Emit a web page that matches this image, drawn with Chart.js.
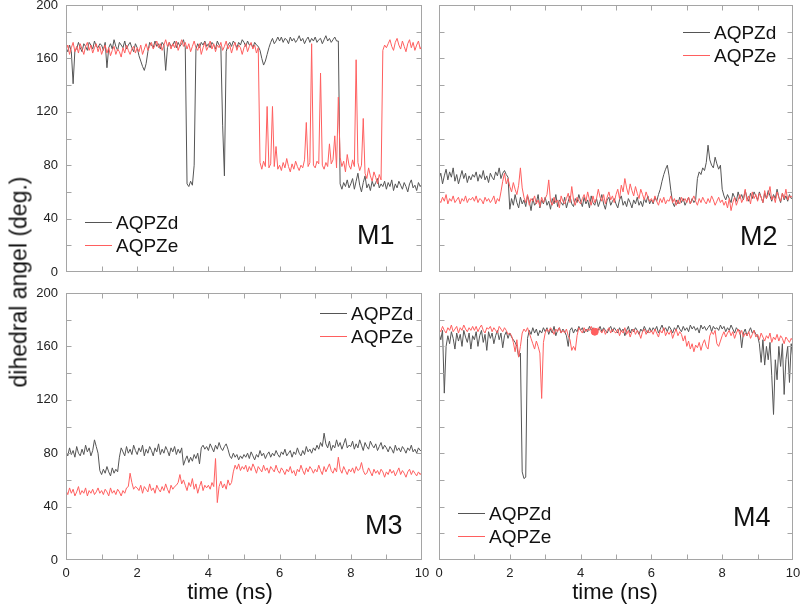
<!DOCTYPE html>
<html>
<head>
<meta charset="utf-8">
<script src="https://cdn.jsdelivr.net/npm/chart.js"></script>
<style>
  body { margin: 0; background: #fff; }
  #wrap { position: relative; width: 800px; height: 614px; overflow: hidden; font-family: "Liberation Sans", Arial, sans-serif; color: #111; }
  canvas { position: absolute; }
  .xt { position: absolute; top: 579px; width: 200px; text-align: center; font-size: 22px; }
  .yt { position: absolute; left: 19px; top: 282px; font-size: 23px; white-space: nowrap; transform: translate(-50%, -50%) rotate(-90deg); }
</style>
</head>
<body>
<div id="wrap">
  <canvas id="m1"></canvas>
  <canvas id="m2"></canvas>
  <canvas id="m3"></canvas>
  <canvas id="m4"></canvas>
  <div class="yt">dihedral angel (deg.)</div>
  <div class="xt" style="left:130px">time (ns)</div>
  <div class="xt" style="left:515px">time (ns)</div>
</div>
<script>
// time axis, 0..10 ns every 0.05 ns
const time = Array.from({ length: 201 }, (_, i) => +(i * 0.05).toFixed(2));

// M1
const m1d = [
  168,165,170,165,141,166,167,172,168,165,171,169,166,172,170,167,173,169,168,171,
  170,166,172,153,168,171,167,174,169,166,172,170,168,173,167,170,172,168,165,171,
  168,162,158,154,151,156,165,172,170,168,173,169,171,167,172,170,151,168,172,169,
  170,173,168,172,169,171,174,168,66,64,68,65,80,167,171,168,172,170,173,169,
  171,168,172,170,167,173,170,168,110,72,165,170,172,169,173,171,168,172,170,174,
  172,169,173,170,171,168,172,170,169,166,160,155,158,163,168,172,175,171,173,176,
  173,176,172,175,174,171,176,173,175,172,174,177,173,175,171,174,176,172,175,173,
  176,172,174,175,171,174,177,173,175,172,174,176,173,173,66,62,67,64,69,63,
  66,70,62,68,74,65,60,67,72,63,66,61,68,64,67,70,63,66,64,68,
  62,67,64,69,61,66,63,68,65,62,67,64,60,66,69,63,65,61,67,64,
  66
];
const m1e = [
  166,170,163,168,172,165,169,164,171,167,163,169,172,166,170,164,168,171,165,169,
  163,167,170,164,168,162,166,169,163,167,165,161,168,164,170,166,163,167,169,164,
  168,165,170,163,167,171,166,169,172,167,170,173,168,171,166,170,174,169,172,167,
  171,168,173,166,170,174,169,172,167,171,165,169,173,168,166,171,163,168,172,166,
  169,173,167,171,165,170,168,172,166,169,173,167,170,164,169,172,166,170,168,163,
  168,171,165,169,172,167,170,164,168,82,77,83,79,124,78,81,124,79,94,77,
  80,76,82,78,85,79,75,81,77,83,79,76,80,78,84,112,79,82,171,80,
  78,83,81,149,80,77,82,79,96,81,84,102,78,131,86,79,83,75,88,80,
  77,84,79,159,82,76,80,115,74,70,78,72,68,75,71,66,73,69,166,170,
  168,171,174,169,166,172,175,170,167,173,169,165,171,174,168,172,166,170,173,167,
  170
];

// M2
const m2d = [
  70,74,66,72,77,69,75,71,78,68,73,66,71,76,70,74,67,72,69,73,
  71,75,68,73,70,76,69,72,67,74,71,69,75,72,78,70,74,76,73,71,
  47,55,50,58,52,48,56,51,54,49,57,53,46,55,50,52,58,48,54,51,
  56,50,53,47,55,51,58,49,54,52,50,56,48,53,57,51,49,55,52,58,
  53,49,56,51,54,48,57,52,50,55,49,53,58,51,47,54,56,50,53,55,
  51,48,54,57,50,53,49,55,52,48,54,51,56,50,53,49,55,52,57,51,
  54,51,56,53,58,62,68,73,77,80,72,61,52,49,54,51,56,52,55,50,
  53,56,51,55,52,54,70,75,73,78,76,82,95,84,80,78,86,81,77,80,
  62,57,54,58,55,52,59,56,53,60,55,58,54,61,56,53,59,55,60,57,
  54,60,56,52,59,55,61,57,53,58,55,62,56,52,59,54,57,53,58,55,
  56
];
const m2e = [
  54,52,56,53,58,51,55,53,57,52,54,56,51,55,53,57,52,55,54,56,
  53,57,52,55,54,51,56,53,55,52,54,57,51,55,53,60,68,74,66,70,
  64,60,67,62,58,65,78,63,56,52,58,50,55,53,57,51,54,49,56,52,
  55,58,69,53,50,56,52,54,48,57,53,51,55,59,52,64,54,50,56,53,
  51,55,58,53,60,54,50,57,52,55,62,56,53,58,51,56,60,54,57,52,
  58,62,55,65,60,70,63,58,66,61,57,64,59,55,62,58,54,60,56,53,
  55,52,57,53,50,55,52,56,51,54,53,57,52,55,50,54,51,56,53,55,
  52,56,51,54,57,53,50,55,52,56,53,51,55,52,57,54,50,53,56,52,
  54,50,53,48,55,46,52,56,50,54,58,52,55,62,53,57,51,60,55,58,
  53,59,56,52,61,55,58,64,54,57,52,60,56,53,59,55,62,54,57,56,
  58
];

// M3
const m3d = [
  81,78,84,79,82,77,85,80,78,83,79,86,81,84,78,82,90,85,80,67,
  64,68,65,70,66,63,69,65,68,66,77,84,81,78,85,80,83,79,86,82,
  79,84,81,86,78,83,80,85,82,78,84,81,87,79,83,80,85,82,78,84,
  81,85,79,83,80,84,71,75,78,73,77,74,79,76,80,72,84,86,83,85,
  82,87,84,81,86,83,88,84,82,85,87,83,78,76,80,77,79,75,78,76,
  79,77,80,76,81,78,75,79,77,82,78,80,76,79,81,77,80,78,82,79,
  77,81,79,83,78,80,82,77,81,79,84,80,78,82,79,85,81,83,80,84,
  82,86,83,88,85,95,87,84,89,82,86,84,90,85,88,83,87,91,84,86,
  85,89,83,87,84,90,86,82,88,85,83,89,86,84,87,82,85,88,83,86,
  84,81,85,83,80,86,82,84,81,85,83,80,84,82,86,81,83,80,84,82,
  82
];
const m3e = [
  52,49,54,50,53,48,51,55,49,52,50,54,48,52,50,53,49,51,54,50,
  52,49,53,51,48,54,50,52,49,53,51,48,52,50,54,55,65,58,53,55,
  54,52,56,50,55,53,51,57,52,54,50,56,53,51,55,52,57,53,50,56,
  53,55,56,58,64,57,60,56,52,58,55,61,53,57,50,55,59,52,56,54,
  56,53,58,55,76,43,55,59,54,57,53,60,56,58,66,71,68,72,67,70,
  68,71,66,70,67,72,69,65,70,68,66,71,67,69,65,70,68,66,71,67,
  65,69,67,64,68,66,70,65,67,63,68,66,71,67,64,69,66,70,68,65,
  68,66,71,67,64,70,66,69,72,67,65,69,66,77,68,65,70,67,64,68,
  66,69,65,70,67,68,73,67,64,65,69,66,63,68,65,67,64,68,66,62,
  66,64,68,65,67,63,66,69,64,67,65,62,66,68,64,67,65,63,66,64,
  66
];

// M4
const m4d = [
  170,165,172,125,160,168,162,171,166,158,170,164,169,160,172,167,163,170,158,168,
  165,171,160,168,172,163,169,157,171,166,170,162,168,172,165,170,159,168,171,166,
  170,167,165,163,160,152,155,66,61,62,166,172,169,174,170,173,168,172,170,174,
  171,174,169,173,170,175,168,172,174,170,173,171,168,160,172,174,170,173,171,175,
  172,174,170,173,171,175,172,174,170,173,172,175,171,174,172,170,173,175,171,174,
  172,170,174,171,173,168,172,175,170,173,171,174,172,169,173,171,175,172,170,174,
  171,174,172,175,170,173,176,172,174,171,175,173,170,174,172,176,173,171,175,172,
  174,171,176,173,175,172,174,170,176,173,175,172,174,176,171,175,173,174,172,176,
  173,175,171,174,172,176,173,170,174,172,172,159,170,173,168,171,174,170,172,169,
  168,162,148,165,146,160,150,163,138,109,150,135,160,145,162,124,150,160,133,162,
  150
];
const m4e = [
  173,171,175,172,170,174,172,176,171,173,175,170,174,172,176,173,171,174,172,175,
  172,175,171,174,176,172,170,174,173,175,171,174,172,170,175,173,171,174,172,169,
  170,168,163,156,165,152,160,170,173,171,174,170,166,162,158,164,160,155,121,163,
  170,173,171,174,172,169,173,171,174,170,172,170,173,168,165,157,160,157,168,174,
  172,170,174,171,173,172,175,171,173,170,174,172,170,173,169,172,174,170,173,171,
  170,173,168,172,170,174,169,172,167,171,173,169,172,170,166,171,173,169,172,170,
  172,169,173,170,167,172,170,174,168,171,169,172,166,170,173,168,171,169,164,168,
  160,164,158,162,156,161,159,163,157,162,165,160,158,168,171,169,172,162,160,164,
  168,171,167,170,172,168,171,166,170,173,169,172,167,170,168,171,166,169,172,167,
  169,165,170,167,164,168,166,170,163,167,165,169,164,168,166,162,167,165,163,166,
  164
];
const m4Dot = [{ x: 4.4, y: 171 }];

const BLACK = '#555555';
const RED = '#ff5f5f';
const FONT = '"Liberation Sans", Arial, sans-serif';

// box, inward ticks, legend and panel tag
const frame = {
  id: 'frame',
  afterDatasetsDraw(chart, args, o) {
    const { ctx, chartArea: a, scales } = chart;
    const x = scales.x, y = scales.y;
    const L = Math.round(a.left) + 0.5, T = Math.round(a.top) + 0.5;
    const R = Math.round(a.right) - 0.5, B = Math.round(a.bottom) - 0.5;
    ctx.save();
    ctx.strokeStyle = '#a5a5a5';
    ctx.lineWidth = 1;
    ctx.strokeRect(L, T, R - L, B - T);
    ctx.beginPath();
    for (let t = 1; t < 10; t++) {
      const px = Math.round(x.getPixelForValue(t)) + 0.5;
      ctx.moveTo(px, B); ctx.lineTo(px, B - 5);
      ctx.moveTo(px, T); ctx.lineTo(px, T + 5);
    }
    for (let v = 20; v < 200; v += 20) {
      const py = Math.round(y.getPixelForValue(v)) + 0.5;
      ctx.moveTo(L, py); ctx.lineTo(L + 5, py);
      ctx.moveTo(R, py); ctx.lineTo(R - 5, py);
    }
    ctx.stroke();

    // legend
    ctx.font = '19px ' + FONT;
    ctx.textBaseline = 'middle';
    ctx.textAlign = 'left';
    [0, 1].forEach(i => {
      const ds = chart.data.datasets[i];
      const ly = Math.round(a.top + o.legend[1] + i * 23) + 0.5;
      const lx = a.left + o.legend[0];
      ctx.strokeStyle = ds.borderColor;
      ctx.beginPath();
      ctx.moveTo(lx, ly); ctx.lineTo(lx + 27, ly);
      ctx.stroke();
      ctx.fillStyle = '#111';
      ctx.fillText(ds.label, lx + 31, ly + 1);
    });

    ctx.font = '27px ' + FONT;
    ctx.fillStyle = '#111';
    ctx.fillText(o.tag[0], a.left + o.tag[1], a.top + o.tag[2]);
    ctx.restore();
  }
};

function makePanel(id, pos, d, e, cfg, extra) {
  const cv = document.getElementById(id);
  cv.width = pos.w; cv.height = pos.h;
  cv.style.left = pos.l + 'px';
  cv.style.top = pos.t + 'px';
  const sets = [
    { label: 'AQPZd', data: d, borderColor: BLACK, borderWidth: 1, pointRadius: 0, tension: 0, order: 2 },
    { label: 'AQPZe', data: e, borderColor: RED, borderWidth: 1, pointRadius: 0, tension: 0, order: 1 }
  ];
  if (extra) sets.push(extra);
  return new Chart(cv, {
    type: 'line',
    data: { labels: time, datasets: sets },
    options: {
      responsive: false,
      animation: false,
      devicePixelRatio: 1,
      layout: { padding: pos.pad },
      plugins: {
        legend: { display: false },
        tooltip: { enabled: false },
        frame: { legend: cfg.legend, tag: cfg.tag }
      },
      scales: {
        x: {
          type: 'linear', min: 0, max: 10,
          display: cfg.xLabels,
          grid: { display: false, drawTicks: false },
          border: { display: false },
          ticks: { stepSize: 2, autoSkip: false, maxRotation: 0, padding: 6, color: '#222', font: { size: 13, family: FONT } },
          afterFit(s) { if (s.options.display) { s.height = 22; s.paddingLeft = 0; s.paddingRight = 0; } }
        },
        y: {
          min: 0, max: 200,
          display: cfg.yLabels,
          grid: { display: false, drawTicks: false },
          border: { display: false },
          ticks: { stepSize: 40, padding: 8, color: '#222', font: { size: 13, family: FONT } },
          afterFit(s) { if (s.options.display) { s.width = 66; s.paddingTop = 0; s.paddingBottom = 0; } }
        }
      }
    },
    plugins: [frame]
  });
}

makePanel('m1', { l: 0, t: 0, w: 430, h: 280, pad: { left: 0, top: 5, right: 8, bottom: 8 } },
  m1d, m1e, { xLabels: false, yLabels: true, legend: [19, 217], tag: ['M1', 291, 232] });
makePanel('m2', { l: 432, t: 0, w: 368, h: 280, pad: { left: 7, top: 5, right: 7, bottom: 8 } },
  m2d, m2e, { xLabels: false, yLabels: false, legend: [244, 27], tag: ['M2', 301, 233] });
makePanel('m3', { l: 0, t: 285, w: 430, h: 297, pad: { left: 0, top: 8, right: 8, bottom: 0 } },
  m3d, m3e, { xLabels: true, yLabels: true, legend: [254, 20], tag: ['M3', 299, 234] });
makePanel('m4', { l: 432, t: 285, w: 368, h: 297, pad: { left: 7, top: 8, right: 7, bottom: 0 } },
  m4d, m4e, { xLabels: true, yLabels: false, legend: [19, 220], tag: ['M4', 294, 226] },
  { label: 'dot', data: m4Dot, borderColor: RED, backgroundColor: RED, pointRadius: 3.5, showLine: false, order: 0 });
</script>
</body>
</html>
